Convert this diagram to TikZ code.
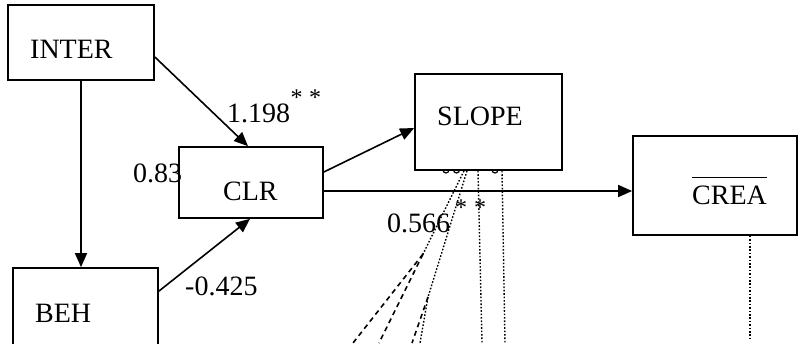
\documentclass[tikz,border=0pt]{standalone}
\usepackage{fontspec}
\setmainfont{Liberation Serif}
\usetikzlibrary{arrows.meta}
\begin{document}
\begin{tikzpicture}[x=1pt,y=1pt,
 box/.style={draw, line width=1.7pt, rectangle, inner sep=0pt},
 txt/.style={font=\fontsize{28}{32}\selectfont, inner sep=0pt, anchor=base west},
 starlbl/.style={font=\fontsize{24}{28}\selectfont, inner sep=0pt, anchor=base},
 arr/.style={line width=1.6pt, -{Triangle[length=14pt,width=12pt]}},
 dotln/.style={line width=1.4pt, dash pattern=on 1.6pt off 1.8pt},
 dashln/.style={line width=1.6pt, dash pattern=on 5pt off 4pt},
 bump/.style={line width=1.2pt}]
\useasboundingbox (0,0) rectangle (802,-343);
\clip (0,0) rectangle (802,-343);
% boxes
\node[box, minimum width=146pt, minimum height=75pt] (inter) at (81,-42.5) {};
\node[box, minimum width=145pt, minimum height=87pt] (beh) at (85.5,-311.5) {};
\node[box, minimum width=144pt, minimum height=71pt] (clr) at (251,-182.5) {};
\node[box, minimum width=147pt, minimum height=96pt] (slope) at (488.5,-122) {};
\node[box, minimum width=164pt, minimum height=99pt] (crea) at (715,-185.5) {};
% box texts
\node[txt] (tinter) at (30,-58) {INTER};
\node[txt] (tbeh) at (35,-322) {BEH};
\node[txt] (tclr) at (223,-200) {CLR};
\node[txt] (tslope) at (437,-125) {SLOPE};
\node[txt] (tcrea) at (692,-204) {$\overline{\mbox{CREA}\rule{0pt}{25pt}}$};
% coefficient labels
\node[txt] (l1) at (227,-122) {1.198};
\node[starlbl] (s1) at (296.5,-105) {*};
\node[starlbl] (s2) at (315,-105) {*};
\node[txt] (l2) at (133,-182) {0.83};
\node[txt] (l3) at (185,-295) {-0.425};
\node[txt] (l4) at (387,-232) {0.566};
\node[starlbl] (s3) at (461,-215) {*};
\node[starlbl] (s4) at (480,-215) {*};
% arrows
\draw[arr] (inter.south) -- (inter.south |- beh.north);
\draw[arr] ([yshift=-14.5pt]inter.east) -- ([xshift=-3pt]clr.north);
\draw[arr] ([yshift=-24pt]beh.north east) -- ([xshift=-1pt]clr.south);
\draw[arr] ([yshift=10.5pt]clr.east) -- ([yshift=-6pt]slope.west);
\draw[arr] ([yshift=-8.5pt]clr.east) -- ([yshift=-8.5pt]clr.east -| crea.west);
% dotted / dashed lines from SLOPE
\coordinate (sa) at ([xshift=-24.5pt]slope.south);
\coordinate (sb) at ([xshift=-21.5pt]slope.south);
\coordinate (sc) at ([xshift=-10.5pt]slope.south);
\coordinate (sd) at ([xshift=13.5pt]slope.south);
\coordinate (split) at (423,-254);
\coordinate (ea) at (353,-343);
\coordinate (eb) at (379,-343);
\coordinate (ec) at (420,-343);
\coordinate (ed) at (482,-343);
\coordinate (ee) at (505,-343);
\coordinate (fa) at (428,-297);
\coordinate (fb) at (412,-343);
\draw[dotln] (sa) -- (split);
\draw[dashln] (split) -- (ea);
\draw[dashln] (split) -- (eb);
\draw[dotln] (sb) -- (fa) -- (ec);
\draw[dashln] (fa) -- (fb);
\draw[dotln] (sc) -- (ed);
\draw[dotln] (sd) -- (ee);
\draw[bump] (443,-170) arc (180:360:3);
\draw[bump] (453.5,-170) arc (180:360:3);
\draw[bump] (492,-170) arc (180:360:3);
% dotted from CREA
\coordinate (cend) at (750,-341);
\draw[dotln] (crea.south -| cend) -- (cend);
\end{tikzpicture}
\end{document}
